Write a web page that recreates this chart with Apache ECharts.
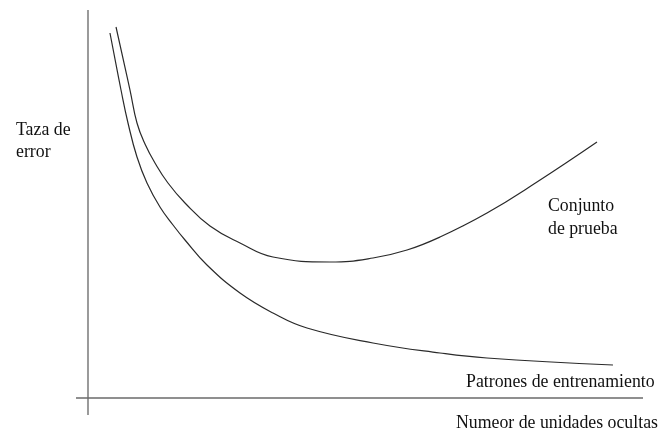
<!DOCTYPE html>
<html>
<head>
<meta charset="utf-8">
<script src="https://cdn.jsdelivr.net/npm/echarts@6/dist/echarts.min.js"></script>
<style>html,body{margin:0;padding:0;background:#fff}#c{width:659px;height:434px}</style>
</head>
<body>
<div id="c"></div>
<script>
// Data (x: hidden units, y: error rate, arbitrary units)
var trainX = [3.96, 5.95, 7.21, 8.83, 10.63, 12.97, 15.32, 17.48, 21.44, 27.39, 33.33, 39.46, 51.35, 63.42, 71.89, 94.59];
var trainY = [94.07, 79.38, 70.88, 62.11, 55.41, 49.23, 44.59, 40.72, 34.28, 27.06, 21.91, 18.04, 14.18, 11.60, 10.31, 8.51];
var testX = [5.05, 7.57, 8.83, 10.27, 12.07, 14.41, 17.48, 21.98, 27.39, 33.33, 43.60, 51.35, 57.48, 63.42, 71.89, 80.90, 91.71];
var testY = [95.62, 79.38, 70.88, 65.46, 60.57, 55.41, 50.26, 44.33, 39.95, 36.34, 35.05, 36.08, 38.14, 41.49, 47.68, 55.67, 65.98];
var xRange = [-2.16, 100];
var yRange = [-4.38, 100];
var yLabel = ['Taza de', 'error'];
var testLabel = ['Conjunto', 'de prueba'];
var trainLabel = 'Patrones de entrenamiento';
var xLabel = 'Numeor de unidades ocultas';

function pairs(xs, ys) { return xs.map(function (x, i) { return [x, ys[i]]; }); }

var txt = function (t, x, y) {
  return { type: 'text', left: x, top: y, style: { text: t, font: '17.8px "Liberation Serif"', fill: '#111' } };
};

var chart = echarts.init(document.getElementById('c'));
chart.setOption({
  animation: false,
  backgroundColor: '#fff',
  grid: { left: 76, right: 16, top: 10, bottom: 19 },
  xAxis: { type: 'value', min: xRange[0], max: xRange[1], show: false },
  yAxis: { type: 'value', min: yRange[0], max: yRange[1], show: false },
  series: [
    { type: 'line', data: [[0, yRange[0]], [0, yRange[1]]], symbol: 'none', silent: true,
      lineStyle: { color: '#9a9a9a', width: 2 } },
    { type: 'line', data: [[xRange[0], 0], [xRange[1], 0]], symbol: 'none', silent: true,
      lineStyle: { color: '#6a6a6a', width: 1.5 } },
    { type: 'line', name: 'train', data: pairs(trainX, trainY), symbol: 'none', smooth: 0.45,
      lineStyle: { color: '#2a2a2a', width: 1.2 } },
    { type: 'line', name: 'test', data: pairs(testX, testY), symbol: 'none', smooth: 0.45,
      lineStyle: { color: '#2a2a2a', width: 1.2 } }
  ],
  graphic: [
    txt(yLabel[0], 16, 121),
    txt(yLabel[1], 16, 143),
    txt(testLabel[0], 548, 197),
    txt(testLabel[1], 548, 220),
    txt(trainLabel, 466, 373),
    txt(xLabel, 456, 414)
  ]
});
</script>
</body>
</html>
